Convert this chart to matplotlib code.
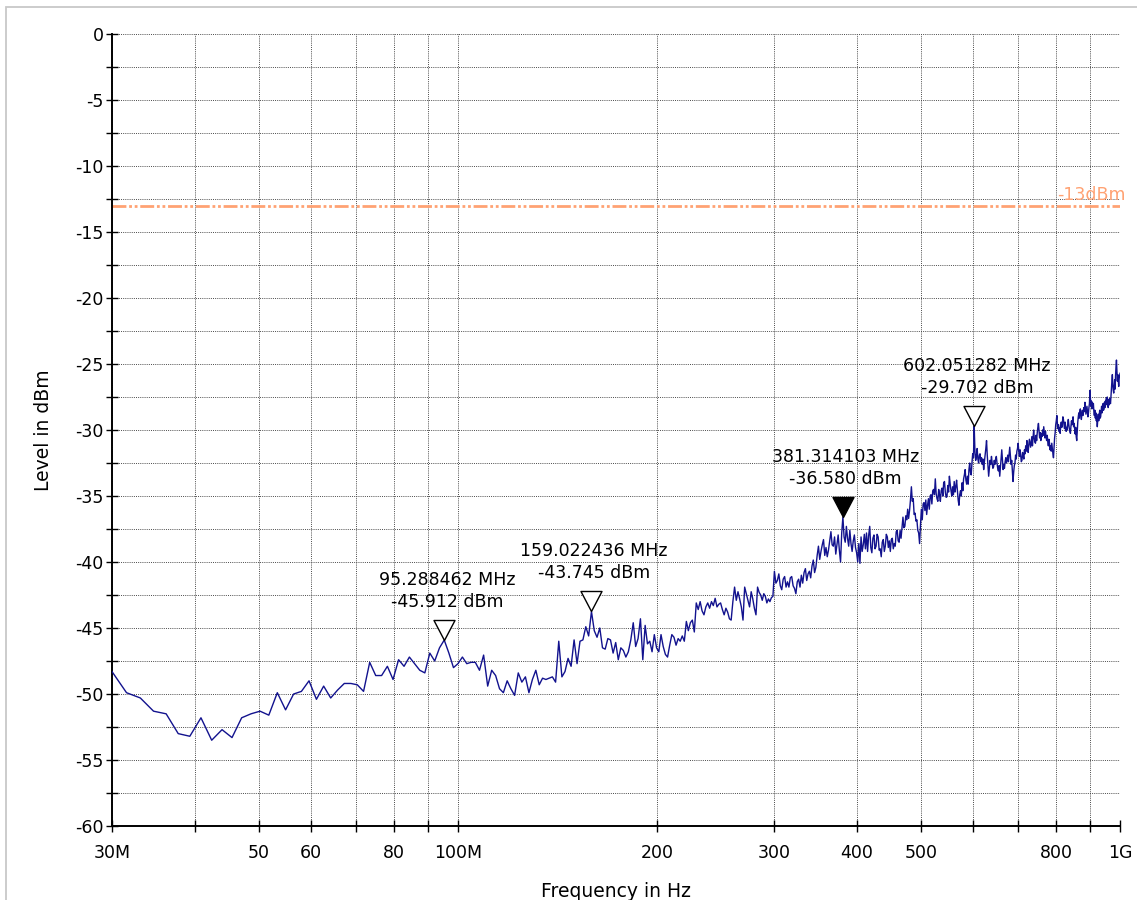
import numpy as np
import matplotlib.pyplot as plt
from matplotlib.path import Path
from matplotlib.patches import Rectangle
from matplotlib.ticker import FixedLocator, FixedFormatter, MultipleLocator

# --- sweep: 625 points, linear from 30 MHz to 1 GHz ---
START_HZ = 30e6
STOP_HZ = 1e9

lvl_030_108 = [-48.3, -49.9, -50.3, -51.3, -51.5, -53.0, -53.2, -51.8, -53.5, -52.7,
               -53.3, -51.8, -51.5, -51.3, -51.6, -49.9, -51.2, -50.0, -49.8, -49.0,
               -50.4, -49.4, -50.3, -49.7, -49.2, -49.2, -49.3, -49.8, -47.6, -48.6,
               -48.6, -47.9, -48.9, -47.4, -47.9, -47.2, -47.7, -48.2, -48.4, -46.9,
               -47.5, -46.5, -45.912, -46.9, -48.0, -47.7, -47.2, -47.7, -47.6, -47.6,
               -48.2]
lvl_109_159 = [-47.05, -49.4, -48.2, -48.6, -49.6, -49.9, -49.0, -49.6, -50.1, -48.4,
               -49.1, -48.7, -49.9, -48.9, -48.2, -49.3, -48.8, -48.9, -48.8, -48.7,
               -49.1, -46.0, -48.7, -48.3, -47.3, -47.9, -45.9, -47.7, -46.0, -45.9,
               -44.9, -45.6, -43.745]
lvl_160_199 = [-45.2, -45.7, -45.0, -46.5, -46.6, -45.8, -45.9, -46.9, -46.1, -47.4,
               -46.5, -46.7, -47.2, -46.8, -45.9, -44.6, -46.4, -45.8, -44.3, -47.4,
               -44.8, -46.2, -46.0, -46.8, -45.5, -46.5]
lvl_200_299 = [-46.8, -45.5, -46.4, -47.0, -47.2, -46.3, -45.5, -45.7, -46.3, -45.8,
               -46.0, -45.6, -46.0, -44.5, -45.2, -44.6, -44.4, -45.3, -43.1, -43.6,
               -43.0, -43.7, -44.0, -43.4, -43.1, -43.5, -43.0, -43.3, -42.75, -43.4,
               -43.2, -43.1, -43.6, -44.0, -43.5, -43.8, -44.3, -44.4, -43.0, -41.9,
               -42.9, -42.25, -42.8, -43.4, -44.4, -41.9, -42.4, -42.9, -43.4, -42.25,
               -42.8, -43.5, -44.0, -41.9, -42.3, -42.5, -42.9, -42.4, -42.6, -43.1,
               -42.8, -43.0, -42.7, -42.6]
lvl_300_399 = [-40.7, -41.6, -41.4, -40.9, -41.8, -42.1, -41.3, -41.1, -41.9, -41.5,
               -41.9, -41.2, -41.1, -41.8, -42.0, -42.4, -41.5, -41.3, -41.9, -41.0,
               -41.6, -40.8, -40.5, -41.4, -40.9, -40.7, -41.2, -40.3, -39.85, -40.8,
               -40.4, -39.5, -38.8, -39.8, -39.2, -38.7, -38.3, -39.5, -38.9, -39.6,
               -39.1, -38.4, -37.7, -38.7, -38.8, -38.1, -39.4, -38.7, -37.95, -39.1,
               -40.0, -37.8, -36.58, -38.1, -38.5, -37.3, -38.2, -38.8, -37.6, -38.6,
               -39.2, -38.4, -37.95, -38.9]
lvl_400_499 = [-39.3, -40.0, -38.6, -40.1, -38.1, -39.2, -38.7, -37.9, -39.0, -37.8,
               -39.2, -38.0, -37.3, -38.9, -39.3, -38.2, -37.95, -39.0, -38.8, -37.9,
               -38.1, -39.1, -39.0, -39.6, -38.5, -38.3, -39.2, -38.8, -37.9, -38.1,
               -38.9, -38.4, -39.2, -38.3, -38.2, -39.0, -38.6, -38.8, -37.7, -37.6,
               -38.4, -38.5, -37.6, -38.2, -37.4, -36.6, -37.4, -37.3, -36.5, -36.8,
               -36.0, -36.7, -36.1, -35.3, -34.3, -35.4, -35.2, -36.4, -36.3, -36.9,
               -36.8, -37.6, -37.8, -38.6]
lvl_500_602 = [-37.2, -36.0, -36.8, -35.6, -35.5, -36.1, -35.3, -36.4, -35.7, -35.2,
               -36.0, -35.0, -34.9, -35.6, -34.6, -34.5, -34.9, -33.7, -34.8, -35.2,
               -35.4, -34.5, -34.9, -35.4, -34.6, -34.4, -35.0, -34.0, -33.9, -34.7,
               -35.1, -35.05, -34.2, -34.7, -33.5, -34.1, -34.6, -35.0, -34.3, -34.9,
               -33.9, -34.7, -34.3, -33.8, -34.6, -35.3, -35.7, -34.9, -34.6, -35.0,
               -34.0, -34.6, -33.7, -33.4, -33.0, -33.8, -34.1, -33.5, -34.1, -33.0,
               -32.5, -33.2, -33.4, -32.5, -31.8, -32.1, -29.702]
lvl_603_699 = [-31.6, -32.3, -32.0, -31.4, -32.2, -32.5, -31.9, -31.8, -32.4, -32.1,
               -32.6, -32.2, -33.0, -32.4, -31.9, -31.4, -30.8, -31.9, -32.7, -33.5,
               -32.9, -32.3, -32.6, -32.0, -32.5, -32.9, -32.8, -32.3, -32.6, -32.2,
               -32.0, -32.5, -32.9, -33.1, -32.7, -33.5, -32.8, -32.1, -31.5, -32.3,
               -33.0, -32.6, -32.9, -32.4, -32.1, -32.5, -32.2, -31.9, -32.4, -31.8,
               -31.3, -31.9, -32.6, -32.3, -33.1, -33.9, -33.2, -32.7, -32.5, -31.9,
               -32.2, -31.6]
lvl_700_799 = [-31.4, -31.0, -31.6, -32.0, -31.5, -31.9, -32.4, -32.3, -31.7, -31.9,
               -32.2, -31.5, -31.8, -31.2, -31.6, -30.8, -31.3, -31.7, -31.1, -30.7,
               -31.0, -31.3, -30.9, -30.5, -31.2, -30.6, -30.0, -30.6, -30.9, -31.0,
               -30.4, -30.8, -30.2, -29.8, -29.5, -30.1, -30.6, -30.2, -30.8, -30.3,
               -30.5, -30.0, -30.4, -29.75, -30.2, -30.6, -30.1, -30.5, -30.8, -30.4,
               -30.9, -31.2, -30.7, -31.0, -31.5, -31.2, -31.6, -31.0, -31.4, -31.8,
               -32.1, -31.3, -30.6, -30.2]
lvl_800_899 = [-29.6, -29.3, -28.9, -29.5, -29.9, -29.6, -30.1, -29.8, -30.25, -29.7,
               -29.4, -29.8, -29.5, -29.0, -29.2, -29.6, -29.9, -29.4, -29.7, -30.1,
               -29.8, -30.0, -29.5, -29.2, -29.6, -29.9, -30.1, -30.25, -29.7, -29.3,
               -29.6, -29.4, -29.0, -29.75, -29.5, -29.9, -30.3, -29.8, -30.5, -30.8,
               -30.1, -29.4, -29.0, -28.7, -29.1, -28.6, -28.4, -28.9, -29.2, -28.8,
               -28.5, -28.9, -28.7, -28.3, -28.6, -27.9, -28.4, -28.8, -28.5, -28.2,
               -28.6, -29.0, -28.7, -28.3, -28.0]
lvl_900_1000 = [-27.0, -27.6, -28.2, -27.8, -28.4, -27.9, -28.3, -28.0, -28.6, -28.9,
                -28.5, -29.1, -28.7, -29.3, -29.0, -29.75, -29.2, -28.8, -29.3, -28.9,
                -28.5, -29.1, -29.0, -28.6, -28.2, -28.7, -28.4, -28.0, -28.5, -28.4,
                -27.9, -28.3, -27.8, -28.1, -27.6, -27.9, -27.5, -27.9, -28.3, -27.7,
                -28.1, -27.6, -27.9, -28.0, -27.4, -26.8, -26.3, -25.8, -26.6, -27.0,
                -27.2, -26.7, -26.2, -26.9, -25.9, -25.2, -24.7, -25.6, -26.3, -25.8,
                -26.2, -26.7, -26.1, -25.9, -25.7]

# markers
MARKER_MHZ = [95.288462, 159.022436, 381.314103, 602.051282]
MARKER_DBM = [-45.912, -43.745, -36.580, -29.702]
MARKER_FILLED = [False, False, True, False]

LIMIT_DBM = -13

XTICK_MHZ = [30, 40, 50, 60, 70, 80, 90, 100, 200, 300, 400, 500, 600, 700, 800, 900, 1000]
XTICK_LABELS = ["30M", "", "50", "60", "", "80", "", "100M", "200", "300", "400", "500",
                "", "", "800", "", "1G"]

TRACE_COLOR = "#12128e"
LIMIT_COLOR = "#ffa273"


def main():
    levels = np.concatenate([lvl_030_108, lvl_109_159, lvl_160_199, lvl_200_299,
                             lvl_300_399, lvl_400_499, lvl_500_602, lvl_603_699,
                             lvl_700_799, lvl_800_899, lvl_900_1000])
    if len(levels) != 625:
        raise ValueError(f"expected 625 points, got {len(levels)}")
    freq = np.linspace(START_HZ, STOP_HZ, len(levels))

    fig = plt.figure(figsize=(11.37, 9.0), dpi=100)
    ax = fig.add_axes([0.0985, 0.0822, 0.8866, 0.880])

    # light frame around the whole picture (only top/left visible)
    fig.patches.append(Rectangle((6 / 1137, -0.05), 1.2, 1.05 - 7 / 900,
                                 transform=fig.transFigure, fill=False,
                                 ec="#c8c8c8", lw=1.3))

    ax.plot(freq, levels, color=TRACE_COLOR, lw=1.0, zorder=3)

    # limit line
    ax.axhline(LIMIT_DBM, color=LIMIT_COLOR, lw=2.0,
               ls=(0, (5, 1, 1, 1, 1, 1)), zorder=2)
    ax.annotate(f"{LIMIT_DBM}dBm", xy=(1, LIMIT_DBM), xycoords=ax.get_yaxis_transform(),
                xytext=(4, 1), textcoords="offset points", ha="right", va="bottom",
                color=LIMIT_COLOR, fontsize=12.5)

    # downward triangle with its tip on the point
    tri = Path([(0, 0), (-0.525, 1.0), (0.525, 1.0), (0, 0)],
               [Path.MOVETO, Path.LINETO, Path.LINETO, Path.CLOSEPOLY])
    for f, lv, filled in zip(MARKER_MHZ, MARKER_DBM, MARKER_FILLED):
        ax.plot(f * 1e6, lv, marker=tri, ms=28.8, ls="none",
                mfc="black" if filled else "white", mec="black", mew=1.0, zorder=5)
        ax.annotate(f"{f:.6f} MHz\n{lv:.3f} dBm", xy=(f * 1e6, lv),
                    xytext=(2, 21), textcoords="offset points",
                    ha="center", va="bottom", fontsize=12.5, linespacing=1.3,
                    zorder=6)

    ax.set_xscale("log")
    ax.set_xlim(START_HZ, STOP_HZ)
    ax.set_ylim(-60, 0)

    ax.xaxis.set_major_locator(FixedLocator([m * 1e6 for m in XTICK_MHZ]))
    ax.xaxis.set_major_formatter(FixedFormatter(XTICK_LABELS))
    ax.xaxis.set_minor_locator(FixedLocator([]))
    yt = np.arange(-60, 1, 5)
    ax.yaxis.set_major_locator(FixedLocator(yt))
    ax.yaxis.set_major_formatter(FixedFormatter([str(v) for v in yt]))
    ax.yaxis.set_minor_locator(MultipleLocator(2.5))

    ax.grid(True, which="both", color="#4a4a4a", lw=0.7, ls=(0, (1, 1.2)), zorder=1)
    ax.tick_params(which="both", direction="inout", length=8, width=1.0, color="black")
    ax.tick_params(axis="x", pad=9, labelsize=12.5)
    ax.tick_params(axis="y", pad=2, labelsize=12.5)

    for side in ["top", "right"]:
        ax.spines[side].set_visible(False)
    for side in ["left", "bottom"]:
        ax.spines[side].set_linewidth(1.4)

    ax.set_xlabel("Frequency in Hz", fontsize=13.5, labelpad=14)
    ax.set_ylabel("Level in dBm", fontsize=13.5, labelpad=16)

    fig.savefig("out.png", dpi=100)


if __name__ == "__main__":
    main()
